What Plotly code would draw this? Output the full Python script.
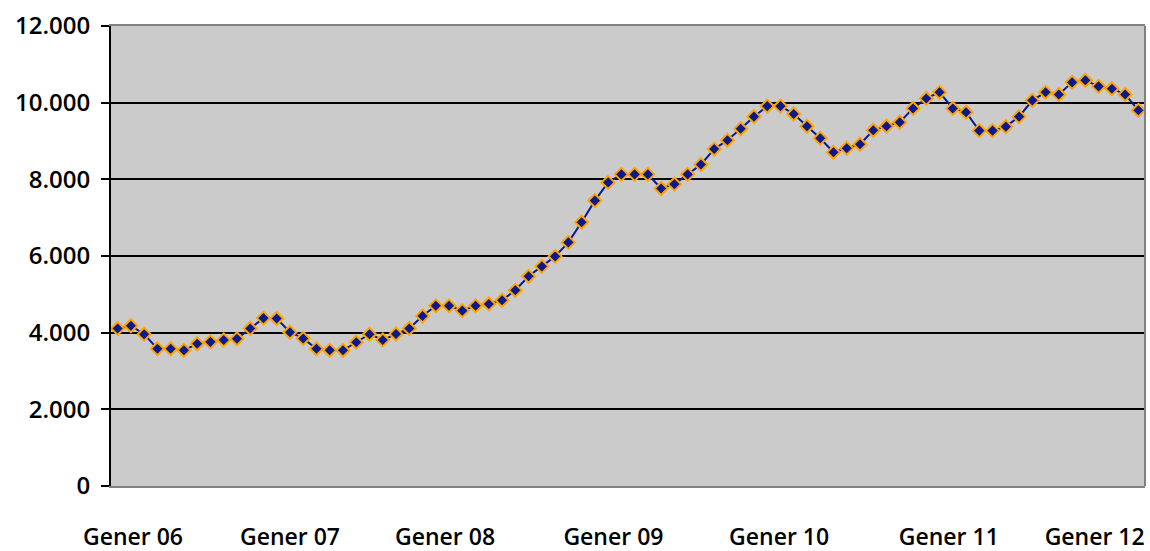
import plotly.graph_objects as go

# Monthly values (78 months)
values = [4110, 4180, 3960, 3580, 3580, 3540, 3710, 3760, 3810, 3840,
          4110, 4380, 4370, 4010, 3850, 3580, 3540, 3540, 3750, 3960,
          3810, 3965, 4110, 4435, 4700, 4700, 4575, 4700, 4750, 4845,
          5105, 5470, 5730, 5990, 6355, 6880, 7445, 7920, 8130, 8130,
          8130, 7760, 7875, 8130, 8385, 8790, 9020, 9320, 9635, 9910,
          9910, 9705, 9385, 9070, 8705, 8810, 8915, 9280, 9385, 9490,
          9850, 10110, 10270, 9850, 9750, 9270, 9270, 9375, 9635, 10060,
          10270, 10215, 10530, 10585, 10425, 10365, 10215, 9800]
months = list(range(len(values)))

tick_labels = ["Gener 06", "Gener 07", "Gener 08", "Gener 09", "Gener 10", "Gener 11", "Gener 12"]
tick_positions = [1.16, 13.0, 24.7, 37.4, 49.9, 62.7, 73.7]
y_ticks = [0, 2000, 4000, 6000, 8000, 10000, 12000]

FONT = "Open Sans"

fig = go.Figure()
fig.add_trace(go.Scatter(
    x=months, y=values, mode="lines+markers",
    line=dict(color="#0A1A8C", width=2),
    marker=dict(symbol="diamond", size=10, color="#0A1A8C",
                line=dict(color="#FFA500", width=2)),
    showlegend=False, hoverinfo="x+y",
))

fig.update_layout(
    width=1150, height=551,
    margin=dict(l=111, r=5, t=26, b=65),
    paper_bgcolor="white", plot_bgcolor="#CBCBCB",
    separators=",.",
    font=dict(family=FONT, size=23, color="black", weight=600),
    xaxis=dict(
        automargin=False,
        range=[-0.5, len(values) - 0.5],
        tickvals=tick_positions, ticktext=tick_labels,
        showgrid=False, zeroline=False,
        showline=True, linecolor="#808080", linewidth=2, mirror=True,
        ticks="outside", ticklen=29, tickcolor="rgba(0,0,0,0)",
        tickfont=dict(family=FONT, size=23, color="black", weight=600),
    ),
    yaxis=dict(
        automargin=False,
        range=[0, 12000], tickvals=y_ticks, tickformat=",d",
        showgrid=True, gridcolor="black", gridwidth=2,
        zeroline=False,
        showline=True, linecolor="black", linewidth=2,
        ticks="outside", ticklen=8, tickwidth=2, tickcolor="black",
        ticklabelstandoff=6,
        tickfont=dict(family=FONT, size=24, color="black", weight=600),
    ),
    shapes=[dict(type="line", xref="paper", yref="paper", x0=1, x1=1, y0=0, y1=1,
                 line=dict(color="#808080", width=2))],
)

fig.write_html(
    "out.html",
    config={"displayModeBar": False},
    post_script="document.body.style.margin='0';document.body.style.overflow='hidden';",
)
